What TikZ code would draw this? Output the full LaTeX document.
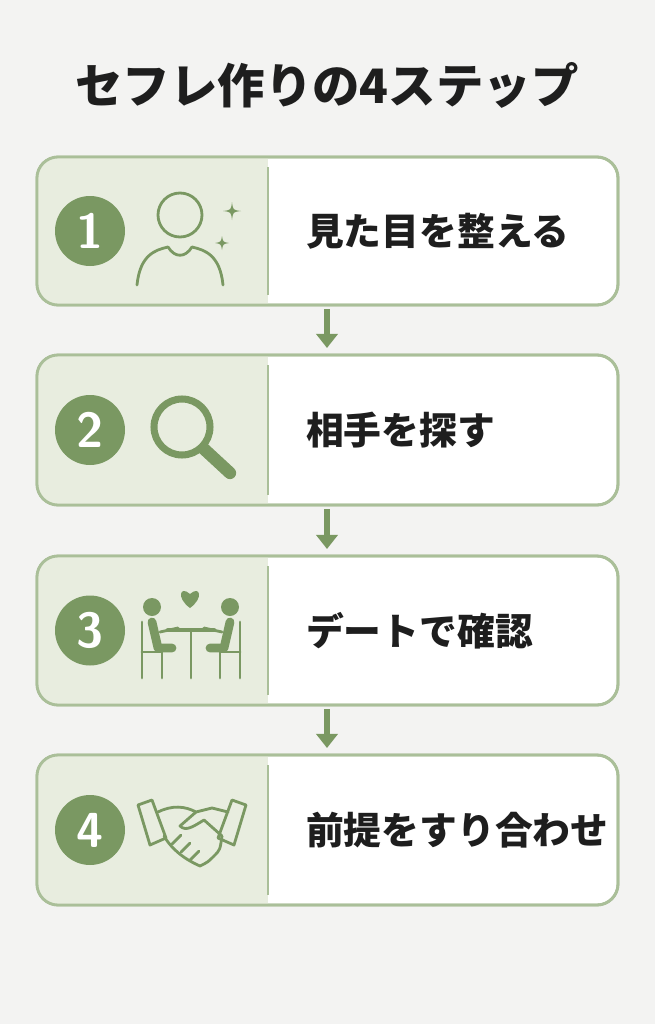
\documentclass[tikz,border=0pt]{standalone}
\usepackage{fontspec}
\newfontfamily\cjk{Noto Sans CJK JP}
\usetikzlibrary{positioning,arrows.meta}
\definecolor{leaf}{HTML}{7A9862}
\definecolor{leaflite}{HTML}{E8EDDF}
\definecolor{leafline}{HTML}{AABF99}
\definecolor{paper}{HTML}{F3F3F2}
\definecolor{ink}{HTML}{1E1E1E}
\tikzset{
  stepbox/.style={draw=leafline, line width=1.6pt, rounded corners=12pt, fill=white},
  stepnum/.style={circle, fill=leaf, minimum size=70\pxu, inner sep=0pt, text=white, font=\sffamily\bfseries\fontsize{28}{28}\selectfont},
  steptxt/.style={anchor=west, text=ink, font=\cjk\bfseries\fontsize{21.5}{21.5}\selectfont},
  icon/.style={draw=leaf, line width=1.6pt, line cap=round, line join=round},
  downarrow/.style={-{Triangle[length=8pt,width=12pt]}, draw=leaf, line width=3pt}
}
\newlength\pxu \setlength\pxu{0.02cm}
\begin{document}
\begin{tikzpicture}[x=0.02cm, y=-0.02cm]
\fill[paper] (0,0) rectangle (655,1024);
\node[text=ink, font=\cjk\bfseries\fontsize{27}{27}\selectfont] (title) at (327,85) {セフレ作りの4ステップ};

% the four steps
\foreach \n/\top/\bot/\txt in {1/157/305/見た目を整える, 2/355/505/相手を探す, 3/556/705/デートで確認, 4/755/905/前提をすり合わせ}{
  \draw[stepbox] (37,\top) rectangle (618,\bot);
  \begin{scope}
    \clip[rounded corners=12pt] (37,\top) rectangle (618,\bot);
    \fill[leaflite] (37,\top) rectangle (268,\bot);
  \end{scope}
  \draw[stepbox, fill=none] (37,\top) rectangle (618,\bot);
  \draw[leafline, line width=1pt] (268,\top+10) -- (268,\bot-10);
  \node[stepnum] (num\n) at (90,{(\top+\bot)/2}) {\n};
  \node[steptxt] (txt\n) at (300,{(\top+\bot)/2}) {\txt};
}

% arrows
\coordinate (a1) at (327,309); \coordinate (b1) at (327,348);
\coordinate (a2) at (327,509); \coordinate (b2) at (327,549);
\coordinate (a3) at (327,709); \coordinate (b3) at (327,748);
\foreach \i in {1,2,3} \draw[downarrow] (a\i) -- (b\i);

% icon 1: person with sparkles
\draw[icon] (180,215) circle (22);
\draw[icon] (137,285) .. controls (140,255) and (155,250) .. (168,247)
  .. controls (175,258) and (185,258) .. (192,247)
  .. controls (205,250) and (220,255) .. (223,285);
\foreach \x/\y/\s in {232/211/9, 222/243/7}
  \fill[leaf] (\x,\y-\s) .. controls (\x+1,\y-1) .. (\x+\s,\y) .. controls (\x+1,\y+1) .. (\x,\y+\s)
    .. controls (\x-1,\y+1) .. (\x-\s,\y) .. controls (\x-1,\y-1) .. (\x,\y-\s);

% icon 2: magnifier
\draw[icon, line width=4pt] (182,427) circle (28);
\draw[icon, line width=7pt] (204,449) -- (230,473);

% icon 3: date at a table
\fill[leaf] (190,608) .. controls (176,598) and (180,585) .. (190,594) .. controls (200,585) and (204,598) .. (190,608);
\fill[leaf] (152,607) circle (9); \fill[leaf] (230,607) circle (9);
\draw[icon, line width=5pt] (152,622) -- (158,648) -- (172,648);
\draw[icon, line width=5pt] (230,622) -- (224,648) -- (210,648);
\draw[icon] (160,632) -- (178,628); \draw[icon] (222,632) -- (204,628);
\draw[icon, line width=2.5pt] (168,630) -- (214,630);
\draw[icon] (191,630) -- (191,678);
\draw[icon] (142,622) -- (142,678); \draw[icon] (142,652) -- (162,652) -- (162,678);
\draw[icon] (240,622) -- (240,678); \draw[icon] (240,652) -- (220,652) -- (220,678);

% icon 4: handshake
\draw[icon] (138,805) -- (152,800) -- (166,838) -- (150,845) -- cycle;
\draw[icon] (246,805) -- (232,800) -- (218,838) -- (234,845) -- cycle;
\draw[icon] (158,812) .. controls (172,805) and (185,806) .. (196,812) -- (212,808) -- (228,812);
\draw[icon] (196,812) -- (180,826) .. controls (186,832) and (194,826) .. (204,820) -- (222,836);
\draw[icon] (164,836) .. controls (172,850) and (186,860) .. (200,866) .. controls (208,862) .. (214,856)
  .. controls (220,850) .. (222,836);
\foreach \x/\y in {172/844, 181/852, 190/860}
  \draw[icon] (\x,\y) -- (\x+9,\y-9);
\end{tikzpicture}
\end{document}
